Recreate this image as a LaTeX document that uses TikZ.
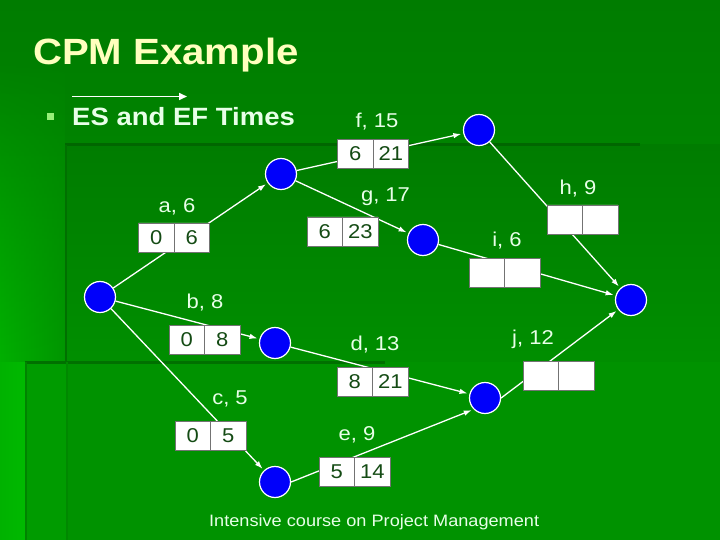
\documentclass[tikz,border=0pt]{standalone}
\usepackage{fontspec}
\setmainfont[FakeStretch=1.1]{Liberation Sans}
\usetikzlibrary{shapes.multipart,arrows.meta,fadings}

\definecolor{bgtop}{RGB}{0,124,0}
\definecolor{bgbottom}{RGB}{0,150,0}
\definecolor{bgglow}{RGB}{0,185,0}
\definecolor{bgline}{RGB}{0,102,0}
\definecolor{eventblue}{RGB}{0,0,250}
\definecolor{boxtext}{RGB}{20,75,20}
\definecolor{labeltext}{RGB}{232,255,232}
\definecolor{titleyellow}{RGB}{255,255,190}
\definecolor{bulletgreen}{RGB}{150,240,120}

\newcommand{\esefcell}[1]{\makebox[35pt]{\rule[-7.5pt]{0pt}{29pt}#1}}

\tikzset{
  event/.style={circle,draw=white,line width=1.2pt,fill=eventblue,minimum size=31pt,inner sep=0pt},
  esef/.style={rectangle split,rectangle split horizontal,rectangle split parts=2,
    draw=black!55,line width=0.6pt,fill=white,inner sep=0pt,text=boxtext,font=\fontsize{20}{24}\selectfont},
  actlabel/.style={anchor=base,inner sep=0pt,text=labeltext,font=\fontsize{20}{24}\selectfont},
  act/.style={draw=white,line width=1.3pt,shorten >=2pt,-{Latex[length=8pt,width=5.5pt]}},
}

\begin{document}
\begin{tikzpicture}[x=1pt,y=-1pt]
  \useasboundingbox (0,0) rectangle (720,540);
  % slide background
  \shade[top color=bgtop,bottom color=bgbottom] (0,0) rectangle (720,540);
  \shade[left color=bgglow!95!black,right color=bgbottom,path fading=north] (0,60) rectangle (65,362);
  \shade[left color=bgglow!110!white,right color=bgglow] (0,362) rectangle (25,540);
  \fill[bgbottom!85!bgglow] (25,362) rectangle (67,540);
  \shade[top color=bgtop,bottom color=bgbottom!95!black] (65,145) rectangle (720,362);
  \fill[bgbottom!97!black] (67,362) rectangle (720,540);
  \draw[bgline,line width=3pt] (65,145) -- (640,145);
  \draw[bgline!80!bgbottom,line width=2pt] (66,145) -- (66,362);
  \draw[bgline!80!bgbottom,line width=3pt] (25,362) -- (385,362);
  \draw[bgline!40!bgbottom,line width=1.5pt] (26,362) -- (26,540);
  \draw[bgline!30!bgbottom,line width=1.5pt] (67,362) -- (67,540);

  % heading
  \node[anchor=base west,inner sep=0pt,text=titleyellow,font=\fontsize{36.5}{40}\selectfont\bfseries] (title) at (33,65) {CPM Example};
  \node[fill=bulletgreen,minimum size=7pt,inner sep=0pt] (bullet) at (50,117) {};
  \node[anchor=base west,inner sep=0pt,text=labeltext,font=\fontsize{25}{30}\selectfont\bfseries] (sub) at (72,126) {ES and EF Times};
  \coordinate (vecs) at (72,96.5);
  \coordinate (vece) at (187,96.5);
  \draw[white,line width=1.6pt,-{Triangle[length=8pt,width=7pt]}] (vecs) -- (vece);

  % events
  \node[event] (n1) at (100,297) {};
  \node[event] (n2) at (281,174) {};
  \node[event] (n3) at (479,130) {};
  \node[event] (n4) at (423,240) {};
  \node[event] (n5) at (631,300) {};
  \node[event] (n6) at (275,343) {};
  \node[event] (n7) at (485,398) {};
  \node[event] (n8) at (275,482) {};

  % activities
  \draw[act] (n1) -- (n2);
  \draw[act] (n2) -- (n3);
  \draw[act] (n2) -- (n4);
  \draw[act] (n3) -- (n5);
  \draw[act] (n4) -- (n5);
  \draw[act] (n1) -- (n6);
  \draw[act] (n6) -- (n7);
  \draw[act] (n1) -- (n8);
  \draw[act] (n8.east) -- (n7.south west);
  \draw[act] (n7.east) -- (n5);

  % ES / EF boxes
  \node[esef] (ba) at (174,237.5) {\esefcell{0}\nodepart{two}\esefcell{6}};
  \node[esef] (bf) at (373,154) {\esefcell{6}\nodepart{two}\esefcell{21}};
  \node[esef] (bg) at (342.5,231.5) {\esefcell{6}\nodepart{two}\esefcell{23}};
  \node[esef] (bh) at (582.5,219.5) {\esefcell{}\nodepart{two}\esefcell{}};
  \node[esef] (bi) at (504.5,273) {\esefcell{}\nodepart{two}\esefcell{}};
  \node[esef] (bb) at (204.5,339.5) {\esefcell{0}\nodepart{two}\esefcell{8}};
  \node[esef] (bd) at (372.5,381.5) {\esefcell{8}\nodepart{two}\esefcell{21}};
  \node[esef] (bc) at (210.5,435.5) {\esefcell{0}\nodepart{two}\esefcell{5}};
  \node[esef] (be) at (354.5,471.5) {\esefcell{5}\nodepart{two}\esefcell{14}};
  \node[esef] (bj) at (558.5,375.5) {\esefcell{}\nodepart{two}\esefcell{}};

  % activity names and durations
  \node[actlabel] (la) at (177,212.7) {a, 6};
  \node[actlabel] (lf) at (377,128) {f, 15};
  \node[actlabel] (lg) at (385.5,202) {g, 17};
  \node[actlabel] (lh) at (578,194.3) {h, 9};
  \node[actlabel] (li) at (507,247) {i, 6};
  \node[actlabel] (lb) at (205,308.3) {b, 8};
  \node[actlabel] (ld) at (375,350) {d, 13};
  \node[actlabel] (lc) at (230,404.3) {c, 5};
  \node[actlabel] (le) at (357,440) {e, 9};
  \node[actlabel] (lj) at (533,344.3) {j, 12};

  \node[anchor=base west,inner sep=0pt,text=labeltext,font=\fontsize{16.5}{20}\selectfont] (foot) at (209,526.7) {Intensive course on Project Management};
\end{tikzpicture}
\end{document}
